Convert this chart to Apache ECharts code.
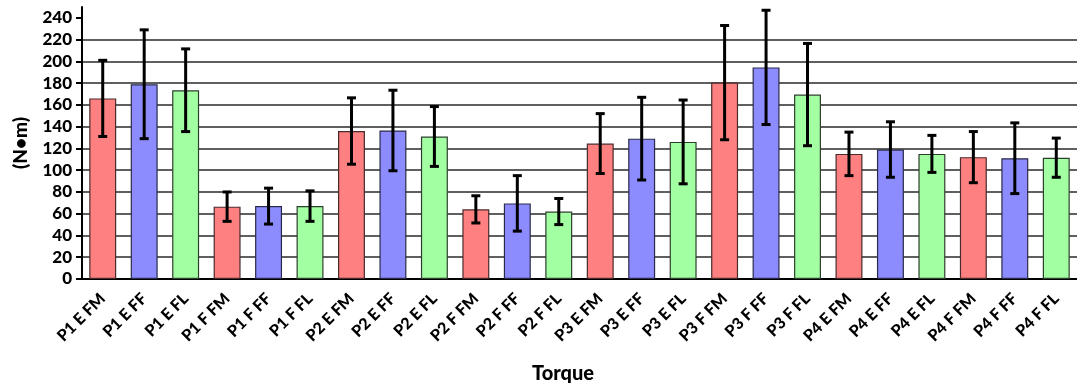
<!DOCTYPE html>
<html>
<head>
<meta charset="utf-8">
<script src="https://cdn.jsdelivr.net/npm/echarts@6/dist/echarts.min.js"></script>
<style>
  html, body { margin: 0; padding: 0; background: #fff; }
  #chart { width: 1077px; height: 389px; }
</style>
</head>
<body>
<div id="chart"></div>
<script>
// Torque per condition: mean and standard deviation (N•m)
const categories = [
  'P1 E FM', 'P1 E FF', 'P1 E FL', 'P1 F FM', 'P1 F FF', 'P1 F FL',
  'P2 E FM', 'P2 E FF', 'P2 E FL', 'P2 F FM', 'P2 F FF', 'P2 F FL',
  'P3 E FM', 'P3 E FF', 'P3 E FL', 'P3 F FM', 'P3 F FF', 'P3 F FL',
  'P4 E FM', 'P4 E FF', 'P4 E FL', 'P4 F FM', 'P4 F FF', 'P4 F FL'
];
const means = [166, 179, 173.5, 66.5, 67, 67, 136, 136.5, 131, 64, 69.5, 62,
               124.5, 129, 126, 180.5, 194.5, 169.5, 115, 119, 115, 112, 111, 111.5];
const sds = [35, 50, 38, 13.5, 16.5, 14, 30.5, 37, 27.5, 12.5, 25.5, 12,
             27.5, 38, 38.5, 52.5, 52.5, 47, 20, 25.5, 17, 23.5, 32.5, 18];
const yTicks = [0, 20, 40, 60, 80, 100, 120, 140, 160, 180, 200, 220, 240];

// FM / FF / FL fill colours, repeating
const fills = ['#FF8080', '#8C8CFF', '#A2FFA2'];
const edges = ['#4a2a2a', '#2a2a4a', '#2f3f2f'];

const font = 'Lato, "Open Sans", sans-serif';

const barData = means.map((v, i) => ({
  value: v,
  itemStyle: { color: fills[i % 3], borderColor: edges[i % 3] }
}));
const errData = means.map((v, i) => [i, v + sds[i], v - sds[i]]);

const chart = echarts.init(document.getElementById('chart'), null, { renderer: 'canvas' });

chart.setOption({
  animation: false,
  backgroundColor: '#fff',
  grid: { left: 82, right: 0, top: 7, bottom: 110, containLabel: false },
  xAxis: {
    type: 'category',
    data: categories,
    name: 'Torque',
    nameLocation: 'middle',
    nameGap: 85,
    nameTextStyle: { fontFamily: font, fontWeight: 900, fontSize: 20, color: '#000', padding: [0, 33, 0, 0] },
    axisLine: { lineStyle: { color: '#000', width: 2 } },
    axisTick: { alignWithLabel: true, length: 6, lineStyle: { color: '#000', width: 2 } },
    axisLabel: {
      rotate: 45, interval: 0, margin: 17,
      fontFamily: font, fontWeight: 900, fontSize: 16, color: '#000'
    },
    splitLine: { show: false }
  },
  yAxis: {
    type: 'value',
    min: 0, max: 250, interval: 20,
    name: '(N•m)',
    nameLocation: 'middle',
    nameGap: 52,
    nameTextStyle: { fontFamily: font, fontWeight: 900, fontSize: 19, color: '#000' },
    axisLine: { show: true, lineStyle: { color: '#000', width: 2 } },
    axisTick: { show: true, length: 6, customValues: yTicks, lineStyle: { color: '#000', width: 2 } },
    axisLabel: {
      customValues: yTicks, margin: 10,
      fontFamily: font, fontWeight: 900, fontSize: 17, color: '#000'
    },
    splitLine: { show: true, showMaxLine: false, lineStyle: { color: '#2a2a2a', width: 1.5 } }
  },
  series: [
    {
      type: 'bar',
      data: barData,
      barWidth: '65%',
      itemStyle: { borderWidth: 1.2 },
      z: 2
    },
    {
      type: 'custom',
      data: errData,
      z: 3,
      renderItem: function (params, api) {
        const hi = api.coord([api.value(0), api.value(1)]);
        const lo = api.coord([api.value(0), api.value(2)]);
        const cap = 4.5;
        const style = { stroke: '#000', lineWidth: 3 };
        return {
          type: 'group',
          children: [
            { type: 'line', shape: { x1: hi[0], y1: hi[1], x2: lo[0], y2: lo[1] }, style: style },
            { type: 'line', shape: { x1: hi[0] - cap, y1: hi[1], x2: hi[0] + cap, y2: hi[1] }, style: style },
            { type: 'line', shape: { x1: lo[0] - cap, y1: lo[1], x2: lo[0] + cap, y2: lo[1] }, style: style }
          ]
        };
      }
    }
  ]
});
</script>
</body>
</html>
